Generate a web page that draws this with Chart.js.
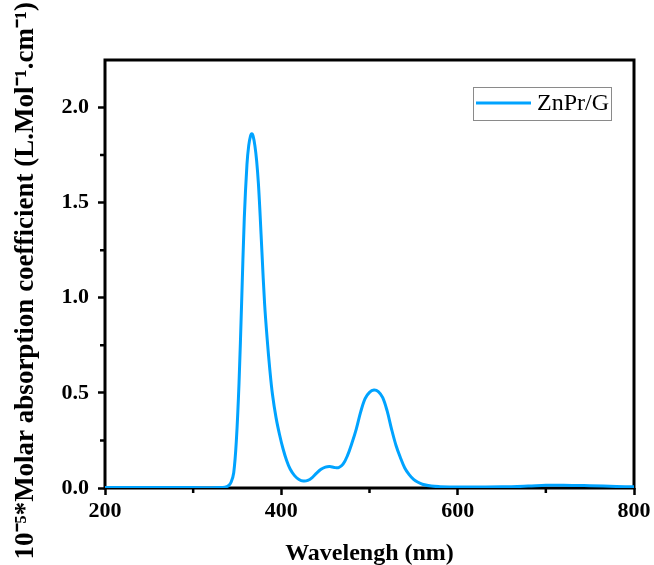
<!DOCTYPE html>
<html>
<head>
<meta charset="utf-8">
<script src="https://cdn.jsdelivr.net/npm/chart.js@4/dist/chart.umd.min.js"></script>
<style>
  html, body { margin: 0; padding: 0; background: #fff; }
  #wrap { width: 654px; height: 565px; }
</style>
</head>
<body>
<div id="wrap"><canvas id="chart" width="654" height="565"></canvas></div>
<script>
const wavelengths = [200, 250, 300, 330, 336, 340, 343, 346, 349, 352, 355, 358, 361, 363, 365, 366.5, 368, 370, 372, 374, 376, 378, 381, 384, 387, 390, 394, 398, 402, 406, 410, 415, 420, 425, 430, 435, 440, 445, 450, 455, 460, 465, 470, 475, 480, 485, 490, 495, 500, 505, 510, 515, 520, 525, 530, 535, 540, 545, 550, 555, 560, 570, 580, 600, 650, 680, 700, 720, 750, 780, 800];
const absorption = [0.002, 0.002, 0.002, 0.002, 0.004, 0.012, 0.03, 0.08, 0.25, 0.55, 0.98, 1.42, 1.70, 1.80, 1.85, 1.862, 1.85, 1.80, 1.72, 1.60, 1.43, 1.24, 0.97, 0.78, 0.62, 0.49, 0.37, 0.28, 0.205, 0.145, 0.10, 0.065, 0.045, 0.037, 0.040, 0.055, 0.078, 0.098, 0.110, 0.113, 0.108, 0.107, 0.125, 0.17, 0.235, 0.31, 0.40, 0.47, 0.503, 0.515, 0.507, 0.475, 0.405, 0.31, 0.225, 0.16, 0.105, 0.07, 0.045, 0.03, 0.02, 0.010, 0.007, 0.005, 0.006, 0.010, 0.014, 0.015, 0.012, 0.008, 0.006];
const seriesLabel = "ZnPr/G";
const xTicks = [200, 400, 600, 800];
const xMinorTicks = [300, 500, 700];
const yTicks = [0, 0.5, 1.0, 1.5, 2.0];
const yMinorTicks = [0.25, 0.75, 1.25, 1.75];

const lineColor = "rgb(0, 163, 255)";
const serif = "'Liberation Serif', 'Times New Roman', serif";

const framePlugin = {
  id: "frame",
  beforeDatasetsDraw(chart) {
    const { ctx, chartArea: a, scales } = chart;
    ctx.save();
    ctx.strokeStyle = "#000";
    ctx.lineWidth = 3;
    ctx.strokeRect(a.left, a.top, a.right - a.left, a.bottom - a.top);
    // minor ticks
    ctx.lineWidth = 2.5;
    ctx.beginPath();
    xMinorTicks.forEach((v) => {
      const x = scales.x.getPixelForValue(v);
      ctx.moveTo(x, a.bottom);
      ctx.lineTo(x, a.bottom + 5);
    });
    yMinorTicks.forEach((v) => {
      const y = scales.y.getPixelForValue(v);
      ctx.moveTo(a.left, y);
      ctx.lineTo(a.left - 5, y);
    });
    ctx.stroke();
    ctx.restore();
  },
  afterDraw(chart) {
    const { ctx, chartArea: a } = chart;
    const bx = a.right - 161, by = a.top + 27, bw = 138, bh = 33;
    ctx.save();
    ctx.fillStyle = "#fff";
    ctx.fillRect(bx, by, bw, bh);
    ctx.strokeStyle = "#8a8a8a";
    ctx.lineWidth = 1;
    ctx.strokeRect(bx + 0.5, by + 0.5, bw, bh);
    ctx.strokeStyle = lineColor;
    ctx.lineWidth = 3;
    ctx.beginPath();
    ctx.moveTo(bx + 3, by + 16);
    ctx.lineTo(bx + 58, by + 16);
    ctx.stroke();
    ctx.fillStyle = "#000";
    ctx.font = "24px " + serif;
    ctx.textBaseline = "middle";
    ctx.fillText(seriesLabel, bx + 64, by + 17);
    ctx.restore();
  },
};

new Chart(document.getElementById("chart"), {
  type: "line",
  data: {
    datasets: [{
      label: seriesLabel,
      data: wavelengths.map((w, i) => ({ x: w, y: absorption[i] })),
      borderColor: lineColor,
      borderWidth: 3,
      pointRadius: 0,
      tension: 0.35,
      fill: false,
    }],
  },
  options: {
    responsive: false,
    animation: false,
    layout: { padding: { left: 0, right: 20, top: 60, bottom: 0 } },
    plugins: {
      legend: { display: false },
      tooltip: { enabled: false },
    },
    scales: {
      x: {
        type: "linear",
        min: 200,
        max: 800,
        afterFit: (scale) => { scale.height = 77; },
        afterBuildTicks: (scale) => { scale.ticks = xTicks.map((v) => ({ value: v })); },
        border: { display: false },
        grid: { drawOnChartArea: false, drawTicks: true, tickLength: 7, tickWidth: 2.5, tickColor: "#000" },
        ticks: {
          color: "#000",
          padding: 3,
          maxRotation: 0,
          font: { family: serif, size: 22, weight: "bold" },
          callback: (v) => String(v),
        },
        title: {
          display: true,
          text: "Wavelengh (nm)",
          color: "#000",
          padding: { top: 0, bottom: -3 },
          font: { family: serif, size: 24, weight: "bold" },
        },
      },
      y: {
        type: "linear",
        min: 0,
        max: 2.25,
        afterFit: (scale) => { scale.width = 105; },
        afterBuildTicks: (scale) => { scale.ticks = yTicks.map((v) => ({ value: v })); },
        border: { display: false },
        grid: { drawOnChartArea: false, drawTicks: true, tickLength: 7, tickWidth: 2.5, tickColor: "#000" },
        ticks: {
          color: "#000",
          padding: 9,
          font: { family: serif, size: 22, weight: "bold" },
          callback: (v) => Number(v).toFixed(1),
        },
        title: {
          display: true,
          // trailing en space nudges the centred title a few px toward the bottom, as in the source
          text: "10\u207B\u2075*Molar absorption coefficient (L.Mol\u207B\u00B9.cm\u207B\u00B9)\u2002",
          color: "#000",
          padding: { top: 10, bottom: 0 },
          font: { family: serif, size: 27, weight: "bold" },
        },
      },
    },
  },
  plugins: [framePlugin],
});
</script>
</body>
</html>
